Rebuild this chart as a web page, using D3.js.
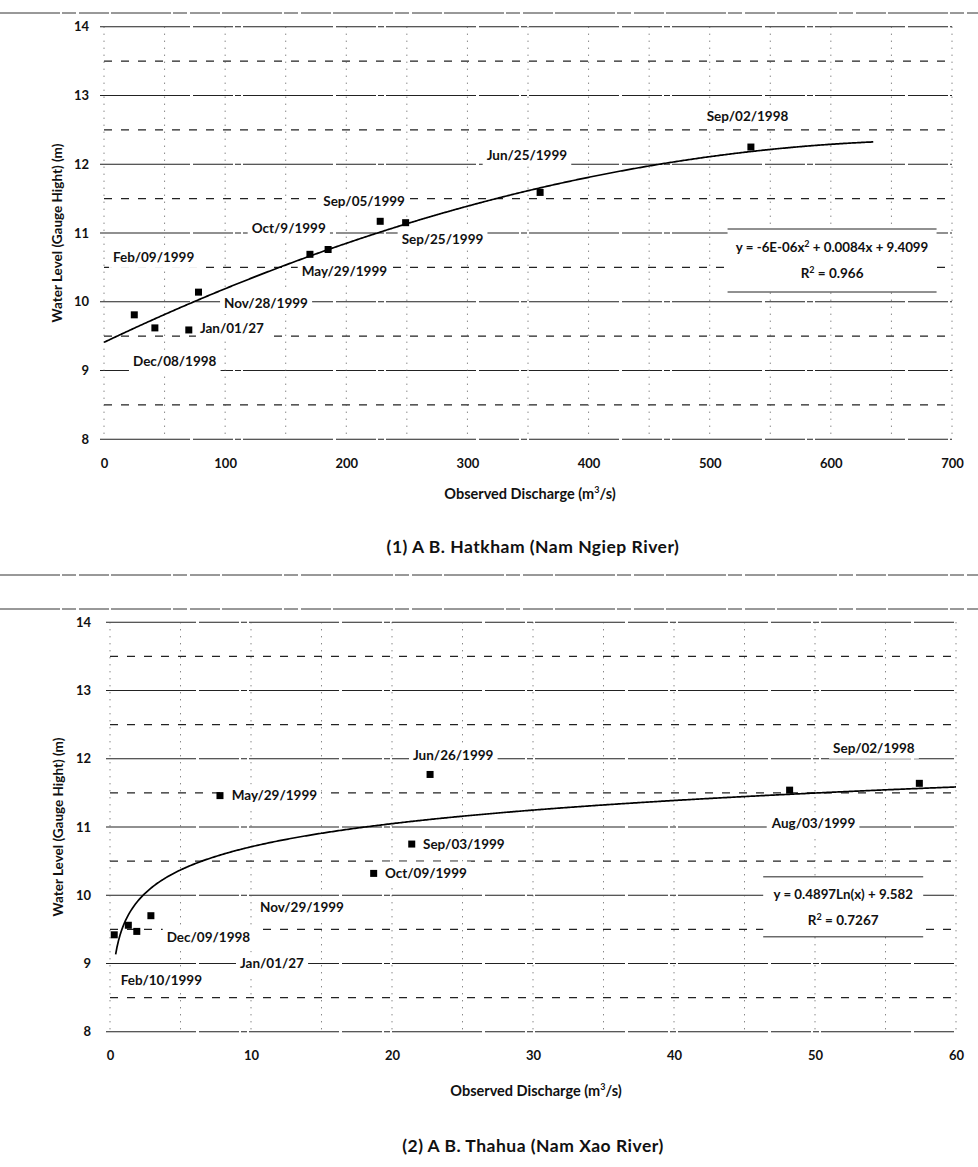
<!DOCTYPE html>
<html>
<head>
<meta charset="utf-8">
<script src="https://cdn.jsdelivr.net/npm/d3@7"></script>
<style>
body { margin: 0; background: #fff; }
svg text { font-family: Lato, "Open Sans", sans-serif; font-weight: bold; fill: #111; }
</style>
</head>
<body>
<svg id="drawing_region"></svg>
<script>
// (1) A B. Hatkham
const hatkhamQ = [25, 42, 70, 78, 170, 185, 228, 249, 360, 534];
const hatkhamH = [9.81, 9.62, 9.59, 10.14, 10.69, 10.76, 11.17, 11.15, 11.59, 12.25];
const hatkhamDates = ['Feb/09/1999', 'Dec/08/1998', 'Jan/01/27', 'Nov/28/1999', 'May/29/1999',
    'Oct/9/1999', 'Sep/05/1999', 'Sep/25/1999', 'Jun/25/1999', 'Sep/02/1998'];
// where each date label sits (left edge discharge, centre level)
const hatkhamLabelQ = [7.4, 23.9, 79.2, 99.1, 163.2, 121.9, 181, 245.7, 315.9, 497.5];
const hatkhamLabelH = [10.65, 9.14, 9.61, 9.98, 10.45, 11.07, 11.47, 10.91, 12.13, 12.70];
const hatkhamTrend = [-6e-6, 0.0084, 9.4099];   // y = a x^2 + b x + c
const hatkhamTrendRange = [0, 635];
const hatkhamXTicks = [0, 100, 200, 300, 400, 500, 600, 700];

// (2) A B. Thahua
const thahuaQ = [0.3, 1.3, 1.9, 2.9, 7.8, 18.7, 21.4, 22.7, 48.2, 57.4];
const thahuaH = [9.42, 9.56, 9.47, 9.70, 11.46, 10.32, 10.75, 11.77, 11.54, 11.64];
const thahuaDates = ['Feb/10/1999', 'Jan/01/27', 'Dec/09/1998', 'Nov/29/1999', 'May/29/1999',
    'Oct/09/1999', 'Sep/03/1999', 'Jun/26/1999', 'Aug/03/1999', 'Sep/02/1998'];
const thahuaLabelQ = [0.76, 9.22, 4.02, 10.64, 8.63, 19.5, 22.2, 21.49, 46.93, 51.28];
const thahuaLabelH = [8.75, 9.00, 9.39, 9.82, 11.46, 10.33, 10.75, 12.06, 11.05, 12.16];
const thahuaTrend = [0.4897, 9.582];            // y = a Ln(x) + b
const thahuaTrendRange = [0.4, 60];
const thahuaXTicks = [0, 10, 20, 30, 40, 50, 60];

const levelTicks = [8, 9, 10, 11, 12, 13, 14];
const levelMinor = [8.5, 9.5, 10.5, 11.5, 12.5, 13.5];

const svg = d3.select('#drawing_region')
    .attr('width', 978)
    .attr('height', 1167);

// frame lines of the scanned page
[13, 575, 609].forEach(y => {
    svg.append('line')
        .attr('x1', 0).attr('x2', 978)
        .attr('y1', y).attr('y2', y)
        .attr('stroke', '#333')
        .attr('stroke-width', 1)
        .attr('stroke-dasharray', '60,2,14,3,30,2');
});

class RatingChart {
    constructor(config, data) {
        this.config = config;
        this.data = data;
        this.init();
    }

    init() {
        let self = this;
        let c = self.config;
        self.chart = svg.append('g')
            .attr('transform', `translate(${c.left}, ${c.top})`);

        self.xscale = d3.scaleLinear()
            .domain([c.xTicks[0], c.xTicks[c.xTicks.length - 1]])
            .range([0, c.width]);
        self.yscale = d3.scaleLinear()
            .domain([8, 14])
            .range([c.height, 0]);

        self.xaxis = d3.axisBottom(self.xscale)
            .tickValues(c.xTicks)
            .tickFormat(d3.format('d'))
            .tickSize(0)
            .tickPadding(19);
        self.yaxis = d3.axisLeft(self.yscale)
            .tickValues(levelTicks)
            .tickFormat(d3.format('d'))
            .tickSize(0)
            .tickPadding(c.yPad);
    }

    trend(x) {
        let k = this.config.coef;
        if (this.config.kind == 'poly') return k[0] * x * x + k[1] * x + k[2];
        return k[0] * Math.log(x) + k[1];
    }

    render() {
        let self = this;
        let c = self.config;
        let w = c.width, h = c.height;

        // grid
        self.chart.selectAll('.major').data(levelTicks).enter()
            .append('line')
            .attr('x1', -4).attr('x2', w)
            .attr('y1', d => self.yscale(d)).attr('y2', d => self.yscale(d))
            .attr('stroke', '#222').attr('stroke-width', 1.1)
            .attr('stroke-dasharray', '90,3,40,2,6,2');
        self.chart.selectAll('.minor').data(levelMinor).enter()
            .append('line')
            .attr('x1', 0).attr('x2', w)
            .attr('y1', d => self.yscale(d)).attr('y2', d => self.yscale(d))
            .attr('stroke', '#222').attr('stroke-width', 1.1)
            .attr('stroke-dasharray', '8,9');
        self.chart.selectAll('.vgrid').data(c.vGrid).enter()
            .append('line')
            .attr('x1', d => self.xscale(d)).attr('x2', d => self.xscale(d))
            .attr('y1', 0).attr('y2', h)
            .attr('stroke', '#555').attr('stroke-width', 1)
            .attr('stroke-dasharray', '1,6');

        // axes
        let xg = self.chart.append('g')
            .attr('transform', `translate(0, ${h})`)
            .call(self.xaxis);
        let yg = self.chart.append('g')
            .call(self.yaxis);
        [xg, yg].forEach(g => {
            g.select('.domain').remove();
            g.attr('font-family', null).attr('font-size', null);
            g.selectAll('text').attr('font-size', '13px').attr('fill', '#111');
        });

        // axis titles
        let xt = self.chart.append('text')
            .attr('x', c.titleX).attr('y', h + c.xTitleDy)
            .attr('text-anchor', 'middle')
            .attr('font-size', '14.5px');
        xt.append('tspan').text('Observed Discharge (m');
        xt.append('tspan').text('3').attr('font-size', '9px').attr('dy', -6);
        xt.append('tspan').text('/s)').attr('dy', 6);

        self.chart.append('text')
            .attr('transform', `translate(${c.yTitleX}, ${h / 2}) rotate(-90)`)
            .attr('text-anchor', 'middle')
            .attr('font-size', '13.5px')
            .text('Water Level (Gauge Hight) (m)');

        self.chart.append('text')
            .attr('x', c.subX).attr('y', h + c.subDy)
            .attr('text-anchor', 'middle')
            .attr('font-size', '17.5px')
            .attr('letter-spacing', '0.5px')
            .text(c.subtitle);

        // date labels on white boxes
        let labels = self.chart.selectAll('.lab').data(self.data).enter()
            .append('g');
        labels.append('rect').attr('fill', '#fff');
        labels.append('text')
            .attr('x', d => self.xscale(d.lq))
            .attr('y', d => self.yscale(d.lh))
            .attr('dy', '0.36em')
            .attr('font-size', '13.5px')
            .text(d => d.date);
        labels.each(function () {
            let g = d3.select(this);
            let b = g.select('text').node().getBBox();
            g.select('rect')
                .attr('x', b.x - 4).attr('y', b.y + b.height / 2 - 11)
                .attr('width', b.width + 8).attr('height', 22);
        });

        // equation box
        let eg = self.chart.append('g')
            .attr('transform', `translate(${self.xscale(c.eqQ)}, ${self.yscale(c.eqH)})`);
        eg.append('rect')
            .attr('x', -c.eqW / 2).attr('y', -c.eqH2 / 2)
            .attr('width', c.eqW).attr('height', c.eqH2)
            .attr('fill', '#fff');
        [-c.eqH2 / 2, c.eqH2 / 2].forEach(y => {
            eg.append('line')
                .attr('x1', -c.eqW / 2).attr('x2', c.eqW / 2)
                .attr('y1', y).attr('y2', y)
                .attr('stroke', '#222').attr('stroke-width', 1);
        });
        let e1 = eg.append('text')
            .attr('y', -13).attr('dy', '0.36em')
            .attr('text-anchor', 'middle')
            .attr('font-size', '13.3px');
        c.eqParts.forEach((p, i) => {
            if (i % 2 == 0) e1.append('tspan').text(p).attr('dy', i == 0 ? null : 5);
            else e1.append('tspan').text(p).attr('font-size', '9px').attr('dy', -5);
        });
        let e2 = eg.append('text')
            .attr('y', 13).attr('dy', '0.36em')
            .attr('text-anchor', 'middle')
            .attr('font-size', '13.5px');
        e2.append('tspan').text('R');
        e2.append('tspan').text('2').attr('font-size', '9px').attr('dy', -5);
        e2.append('tspan').text(' = ' + c.r2).attr('dy', 5);

        // trendline
        let r = c.trendRange;
        let xs = d3.range(r[0], r[1], (r[1] - r[0]) / 600).concat([r[1]]);
        self.chart.append('path')
            .datum(xs)
            .attr('d', d3.line()
                .x(d => self.xscale(d))
                .y(d => self.yscale(self.trend(d))))
            .attr('fill', 'none')
            .attr('stroke', '#000')
            .attr('stroke-width', 1.7);

        // observations
        self.chart.selectAll('.pt').data(self.data).enter()
            .append('rect')
            .attr('x', d => self.xscale(d.q) - 3.5)
            .attr('y', d => self.yscale(d.h) - 3.5)
            .attr('width', 7).attr('height', 7)
            .attr('fill', '#000');
    }
}

const hatkhamData = hatkhamQ.map((q, i) => ({
    q: q, h: hatkhamH[i], date: hatkhamDates[i], lq: hatkhamLabelQ[i], lh: hatkhamLabelH[i]
}));
const thahuaData = thahuaQ.map((q, i) => ({
    q: q, h: thahuaH[i], date: thahuaDates[i], lq: thahuaLabelQ[i], lh: thahuaLabelH[i]
}));

let chart1 = new RatingChart({
    left: 104, top: 26.7, width: 848, height: 412.6,
    xTicks: hatkhamXTicks, vGrid: d3.range(0, 701, 50), yPad: 15,
    kind: 'poly', coef: hatkhamTrend, trendRange: hatkhamTrendRange,
    titleX: 426, xTitleDy: 60, yTitleX: -42, subX: 429, subDy: 114,
    subtitle: '(1) A B. Hatkham (Nam Ngiep River)',
    eqQ: 601, eqH: 10.6, eqW: 209, eqH2: 63,
    eqParts: ['y = -6E-06x', '2', ' + 0.0084x + 9.4099'], r2: '0.966'
}, hatkhamData);
chart1.render();

let chart2 = new RatingChart({
    left: 110, top: 622.3, width: 846, height: 409.4,
    xTicks: thahuaXTicks, vGrid: d3.range(0, 61, 5), yPad: 19,
    kind: 'log', coef: thahuaTrend, trendRange: thahuaTrendRange,
    titleX: 426, xTitleDy: 64, yTitleX: -47, subX: 423, subDy: 120,
    subtitle: '(2) A B. Thahua (Nam Xao River)',
    eqQ: 52.0, eqH: 9.83, eqW: 160, eqH2: 60,
    eqParts: ['y = 0.4897Ln(x) + 9.582'], r2: '0.7267'
}, thahuaData);
chart2.render();
</script>
</body>
</html>
